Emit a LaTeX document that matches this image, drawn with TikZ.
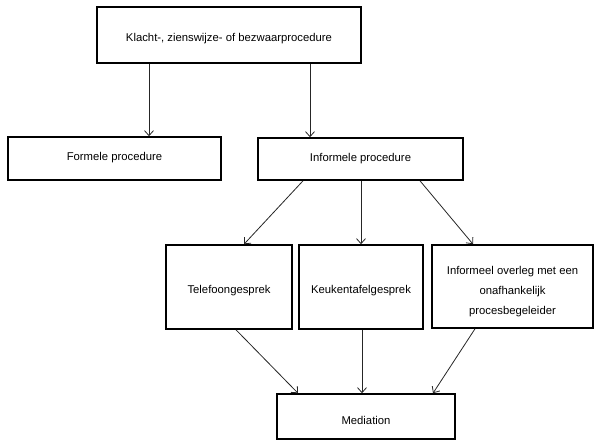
\documentclass[tikz,border=0pt]{standalone}
\usepackage{fontspec}
\setmainfont{Liberation Sans}
\usetikzlibrary{arrows.meta}
\begin{document}
\begin{tikzpicture}[x=1pt,y=-1pt,
  box/.style={draw=black,line width=1.6pt,inner sep=0pt},
  txt/.style={inner sep=0pt,align=center,font=\fontsize{11.3}{20}\selectfont},
  arr/.style={draw=black!85,line width=0.8pt,-{Straight Barb[length=5pt,width=9pt]}}]
\useasboundingbox (0,0) rectangle (594,440);
\node[box,minimum width=264pt,minimum height=56pt] (top) at (229,35) {};
\node[txt] (topt) at (229,39) {Klacht-, zienswijze- of bezwaarprocedure};
\node[box,minimum width=213pt,minimum height=43pt] (formele) at (114.5,158.5) {};
\node[txt] (formelet) at (114.5,157.5) {Formele procedure};
\node[box,minimum width=205pt,minimum height=42pt] (informele) at (360.5,159) {};
\node[txt] (informelet) at (360.5,158.5) {Informele procedure};
\node[box,minimum width=126pt,minimum height=84pt] (tel) at (229,287) {};
\node[txt] (telt) at (229,291) {Telefoongesprek};
\node[box,minimum width=124pt,minimum height=84pt] (keuken) at (361,287) {};
\node[txt] (keukent) at (361,291) {Keukentafelgesprek};
\node[box,minimum width=161pt,minimum height=83pt] (overleg) at (512.5,286.5) {};
\node[txt] (overlegt) at (512.5,292) {Informeel overleg met een\\onafhankelijk\\procesbegeleider};
\node[box,minimum width=178pt,minimum height=45pt] (med) at (366,416.5) {};
\node[txt] (medt) at (366,420) {Mediation};
\draw[arr] ([xshift=-80pt]top.south) -- ([xshift=34.5pt]formele.north);
\draw[arr] ([xshift=81pt]top.south) -- ([xshift=-50.5pt]informele.north);
\draw[arr] ([xshift=-57.5pt]informele.south) -- ([xshift=15pt]tel.north);
\draw[arr] ([xshift=0.5pt]informele.south) -- ([xshift=0pt]keuken.north);
\draw[arr] ([xshift=59.5pt]informele.south) -- ([xshift=-39.5pt]overleg.north);
\draw[arr] ([xshift=7pt]tel.south) -- ([xshift=-68pt]med.north);
\draw[arr] ([xshift=1pt]keuken.south) -- ([xshift=-4pt]med.north);
\draw[arr] ([xshift=-37.5pt]overleg.south) -- ([xshift=67pt]med.north);
\end{tikzpicture}
\end{document}
